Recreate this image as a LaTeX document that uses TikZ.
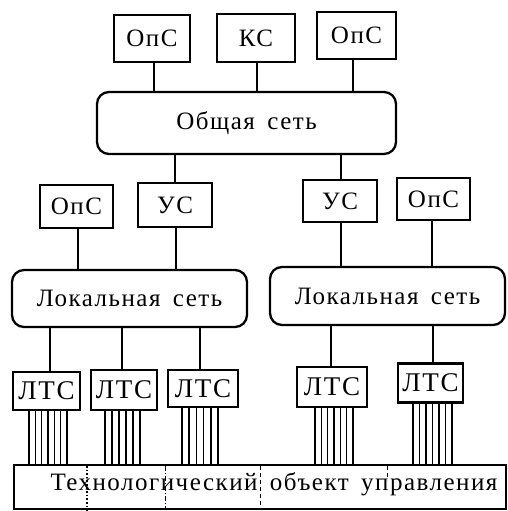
\documentclass[tikz,border=0pt]{standalone}
\usepackage{fontspec}
\setmainfont{Liberation Serif}[LetterSpace=6,WordSpace=1.6]
\begin{document}
\begin{tikzpicture}[x=1pt,y=-1pt,
  every node/.style={font=\fontsize{25}{29}\selectfont, inner sep=0pt},
  unit/.style={draw, line width=2.3pt, minimum width=#1, align=center},
  station/.style={unit=#1, font=\fontsize{27}{31}\selectfont},
  netbox/.style={draw, line width=2.3pt, rounded corners=12pt},
  link/.style={line width=2.3pt},
  wire/.style={line width=1.6pt},
  part/.style={line width=0.9pt, dash pattern=on 4pt off 3pt}
]
\useasboundingbox (0,0) rectangle (508,511);

% upper level: operator and communication stations
\node[unit=76pt, minimum height=47pt] (ops1) at (152,38.5) {ОпС};
\node[unit=78pt, minimum height=48pt] (ks)   at (256,38)   {КС};
\node[unit=79pt, minimum height=47pt] (ops2) at (356.5,35.5) {ОпС};

% common network
\node[netbox, minimum width=299pt, minimum height=62pt] (net) at (246.5,123) {Общая сеть};

% gateway and operator stations of the local segments
\node[unit=73pt, minimum height=43pt] (ops3) at (76.5,206.5) {ОпС};
\node[unit=74pt, minimum height=44pt] (us1)  at (175,205)    {УС};
\node[unit=74pt, minimum height=42pt] (us2)  at (340,201)    {УС};
\node[unit=73pt, minimum height=42pt] (ops4) at (433.5,199)  {ОпС};

% local networks
\node[netbox, minimum width=235pt, minimum height=57pt] (loc1) at (129.5,298.5) {Локальная сеть};
\node[netbox, minimum width=235pt, minimum height=58pt] (loc2) at (387.5,296)   {Локальная сеть};

% local technological stations
\node[station=67pt, minimum height=38pt] (lts1) at (46.5,391)  {ЛТС};
\node[station=66pt, minimum height=40pt] (lts2) at (124,390)   {ЛТС};
\node[station=70pt, minimum height=37pt] (lts3) at (203,388.5) {ЛТС};
\node[station=70pt, minimum height=40pt] (lts4) at (332,387)   {ЛТС};
\node[station=65pt, minimum height=39pt] (lts5) at (430.5,383) {ЛТС};

% controlled plant
\node[draw, line width=2.3pt, minimum width=492pt, minimum height=44pt] (obj) at (260,487) {};
\node (objtext) at (274,484) {Технологический объект управления};

% partitions inside the plant
\draw[line width=1.6pt, dotted] (87,466) -- (87,511);
\draw[line width=0.9pt, dash pattern=on 5pt off 2pt on 1pt off 2pt] (165,466) -- (165,509);
\draw[part] (260,466) -- (260,509);
\draw[part] (387,466) -- (387,480);

% links to the common network
\draw[link] ([xshift=2pt]ops1.south) -- ([xshift=2pt]ops1.south |- net.north);
\draw[link] ([xshift=1pt]ks.south) -- ([xshift=1pt]ks.south |- net.north);
\draw[link] ([xshift=-3.5pt]ops2.south) -- ([xshift=-3.5pt]ops2.south |- net.north);
\draw[link] (us1.north |- net.south) -- (us1.north);
\draw[link] ([xshift=1pt]us2.north |- net.south) -- ([xshift=1pt]us2.north);

% links to the local networks
\draw[link] ([xshift=1.5pt]ops3.south) -- ([xshift=1.5pt]ops3.south |- loc1.north);
\draw[link] ([xshift=1pt]us1.south) -- ([xshift=1pt]us1.south |- loc1.north);
\draw[link] ([xshift=1pt]us2.south) -- ([xshift=1pt]us2.south |- loc2.north);
\draw[link] ([xshift=-1.5pt]ops4.south) -- ([xshift=-1.5pt]ops4.south |- loc2.north);

\draw[link] ([xshift=3.5pt]lts1.north |- loc1.south) -- ([xshift=3.5pt]lts1.north);
\draw[link] ([xshift=-2pt]lts2.north |- loc1.south) -- ([xshift=-2pt]lts2.north);
\draw[link] ([xshift=-3pt]lts3.north |- loc1.south) -- ([xshift=-3pt]lts3.north);
\draw[link] ([xshift=-1pt]lts4.north |- loc2.south) -- ([xshift=-1pt]lts4.north);
\draw[link] ([xshift=2.5pt]lts5.north |- loc2.south) -- ([xshift=2.5pt]lts5.north);

% signal wire bundles from each station to the plant
\foreach \i in {0,...,6} \draw[wire] ([xshift={(-17.5+\i*6.33)*1pt}]lts1.south) -- ([xshift={(-17.5+\i*6.33)*1pt}]lts1.south |- obj.north);
\foreach \i in {0,...,5} \draw[wire] ([xshift={(-19+\i*7)*1pt}]lts2.south) -- ([xshift={(-19+\i*7)*1pt}]lts2.south |- obj.north);
\foreach \i in {0,...,5} \draw[wire] ([xshift={(-21+\i*7.2)*1pt}]lts3.south) -- ([xshift={(-21+\i*7.2)*1pt}]lts3.south |- obj.north);
\foreach \i in {0,...,6} \draw[wire] ([xshift={(-17+\i*6.33)*1pt}]lts4.south) -- ([xshift={(-17+\i*6.33)*1pt}]lts4.south |- obj.north);
\foreach \i in {0,...,6} \draw[wire] ([xshift={(-17.5+\i*6.5)*1pt}]lts5.south) -- ([xshift={(-17.5+\i*6.5)*1pt}]lts5.south |- obj.north);
\end{tikzpicture}
\end{document}
